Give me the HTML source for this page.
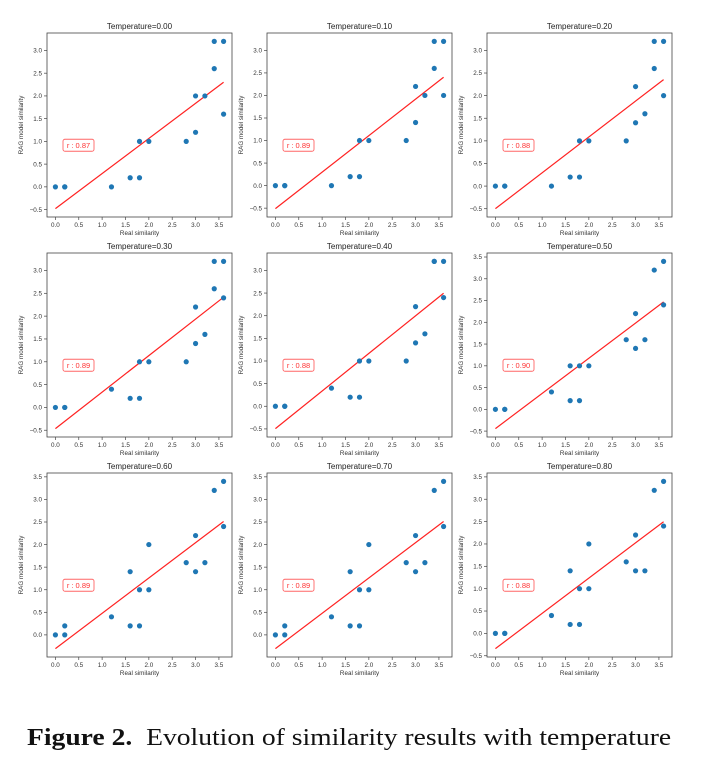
<!DOCTYPE html>
<html><head><meta charset="utf-8"><style>
body{margin:0;background:#fff;width:728px;height:772px;overflow:hidden;position:relative}
svg{position:absolute;left:0;top:0}
#cap{position:absolute;left:27px;top:726px;font-family:"Liberation Serif",serif;font-size:24px;line-height:24px;color:#111;white-space:nowrap;transform:scaleX(1.15);transform-origin:0 0}
</style></head><body>
<svg id="fig" width="728" height="772"></svg>
<div id="cap"><b>Figure 2.</b>&nbsp; Evolution of similarity results with temperature</div>
<script>
const titles=["Temperature=0.00","Temperature=0.10","Temperature=0.20","Temperature=0.30","Temperature=0.40","Temperature=0.50","Temperature=0.60","Temperature=0.70","Temperature=0.80"];
const rLabels=["r : 0.87","r : 0.89","r : 0.88","r : 0.89","r : 0.88","r : 0.90","r : 0.89","r : 0.89","r : 0.88"];
const xsA=[0,0.2,0.2,1.2,1.6,1.8,1.8,2.0,2.8,3.0,3.0,3.2,3.4,3.4,3.6,3.6];
const xsB=[0,0.2,0.2,1.2,1.6,1.6,1.8,1.8,2.0,2.8,3.0,3.0,3.2,3.4,3.6,3.6];
const xsC=[0,0.2,0.2,1.2,1.6,1.6,1.8,1.8,2.0,2.0,2.8,3.0,3.0,3.2,3.4,3.6,3.6];
const xValues=[xsA,xsA,xsA,xsA,xsA,xsB,xsC,xsC,xsC];
const y0=[0,0,0,0,0.2,1.0,0.2,1.0,1.0,2.0,1.2,2.0,3.2,2.6,3.2,1.6];
const y1=[0,0,0,0,0.2,1.0,0.2,1.0,1.0,2.2,1.4,2.0,3.2,2.6,3.2,2.0];
const y2=[0,0,0,0,0.2,1.0,0.2,1.0,1.0,2.2,1.4,1.6,3.2,2.6,3.2,2.0];
const y3=[0,0,0,0.4,0.2,1.0,0.2,1.0,1.0,2.2,1.4,1.6,3.2,2.6,3.2,2.4];
const y4=[0,0,0,0.4,0.2,1.0,0.2,1.0,1.0,2.2,1.4,1.6,3.2,3.2,3.2,2.4];
const y5=[0,0,0,0.4,1.0,0.2,1.0,0.2,1.0,1.6,2.2,1.4,1.6,3.2,3.4,2.4];
const y6=[0,0.2,0,0.4,1.4,0.2,1.0,0.2,2.0,1.0,1.6,2.2,1.4,1.6,3.2,3.4,2.4];
const y7=[0,0.2,0,0.4,1.4,0.2,1.0,0.2,2.0,1.0,1.6,2.2,1.4,1.6,3.2,3.4,2.4];
const y8=[0,0,0,0.4,1.4,0.2,1.0,0.2,2.0,1.0,1.6,2.2,1.4,1.4,3.2,3.4,2.4];
const yValues=[y0,y1,y2,y3,y4,y5,y6,y7,y8];
const xTicks=[0,0.5,1,1.5,2,2.5,3,3.5];
const yTicks=[-0.5,0,0.5,1,1.5,2,2.5,3,3.5];

const NS="http://www.w3.org/2000/svg";
const svg=document.getElementById('fig');
function mk(tag,attrs,parent,text){const e=document.createElementNS(NS,tag);for(const k in attrs)e.setAttribute(k,attrs[k]);if(text!==undefined)e.textContent=text;(parent||svg).appendChild(e);return e;}
const F='"Liberation Sans",sans-serif';
for(let p=0;p<9;p++){
  const col=p%3,row=Math.floor(p/3);
  const L=47+col*220,T=33+row*220,W=185,H=184;
  const xs=xValues[p],ys=yValues[p],n=xs.length;
  let mx=0,my=0;for(let i=0;i<n;i++){mx+=xs[i];my+=ys[i];}mx/=n;my/=n;
  let sxy=0,sxx=0;for(let i=0;i<n;i++){sxy+=(xs[i]-mx)*(ys[i]-my);sxx+=(xs[i]-mx)**2;}
  const b=sxy/sxx,a=my-b*mx;
  const xmin=Math.min(...xs),xmax=Math.max(...xs);
  const l0=a+b*xmin,l1=a+b*xmax;
  const lo=Math.min(...ys,l0,l1),hi=Math.max(...ys,l0,l1),rg=hi-lo;
  const ylo=lo-0.05*rg,yhi=hi+0.05*rg;
  const xr=xmax-xmin,xlo=xmin-0.05*xr,xhi=xmax+0.05*xr;
  const sx=v=>L+(v-xlo)/(xhi-xlo)*W, sy=v=>T+H-(v-ylo)/(yhi-ylo)*H;
  const g=mk('g',{});
  
  
  const fr=mk('rect',{x:L,y:T,width:W,height:H,fill:'#fff',stroke:'#444','stroke-width':0.8},g);
  
  const tt=mk('text',{x:L+W/2,y:T-4,'text-anchor':'middle','font-family':F,'font-size':8,fill:'#222'},g,titles[p]);
  
  xTicks.forEach(v=>{const X=sx(v);mk('line',{x1:X,x2:X,y1:T+H,y2:T+H+3,stroke:'#444','stroke-width':0.7},g);
    const t=mk('text',{x:X,y:T+H+10,'text-anchor':'middle','font-family':F,'font-size':6.3,fill:'#333'},g,v.toFixed(1));
    });
  yTicks.forEach(v=>{if(v<ylo||v>yhi)return;const Y=sy(v);mk('line',{x1:L-3,x2:L,y1:Y,y2:Y,stroke:'#444','stroke-width':0.7},g);
    const t=mk('text',{x:L-5,y:Y+2.2,'text-anchor':'end','font-family':F,'font-size':6.3,fill:'#333'},g,(v<0?'\u22120.5':v.toFixed(1)));
    });
  const xl=mk('text',{x:L+W/2,y:T+H+18,'text-anchor':'middle','font-family':F,'font-size':6.3,fill:'#333'},g,'Real similarity');
  
  const yx=L-24,yy=T+H/2;
  const yl=mk('text',{x:yx,y:yy,'text-anchor':'middle','font-family':F,'font-size':6.3,fill:'#333',transform:`rotate(-90 ${yx} ${yy})`},g,'RAG model similarity');
  
  const ln=mk('line',{x1:sx(xmin),y1:sy(l0),x2:sx(xmax),y2:sy(l1),stroke:'#f22','stroke-width':1.2},g);
  
  for(let i=0;i<n;i++){const c=mk('circle',{cx:sx(xs[i]),cy:sy(ys[i]),r:2.6,fill:'#1f77b4'},g);
    }
  const bx=L+16,by=T+H*0.61-6;
  const br=mk('rect',{x:bx,y:by,width:31,height:12,rx:2,fill:'#fff',stroke:'#f66','stroke-width':0.9},g);
  
  const rt=mk('text',{x:bx+15.5,y:by+8.7,'text-anchor':'middle','font-family':F,'font-size':7.5,fill:'#f33'},g,rLabels[p]);
  
}
</script>
</body></html>
